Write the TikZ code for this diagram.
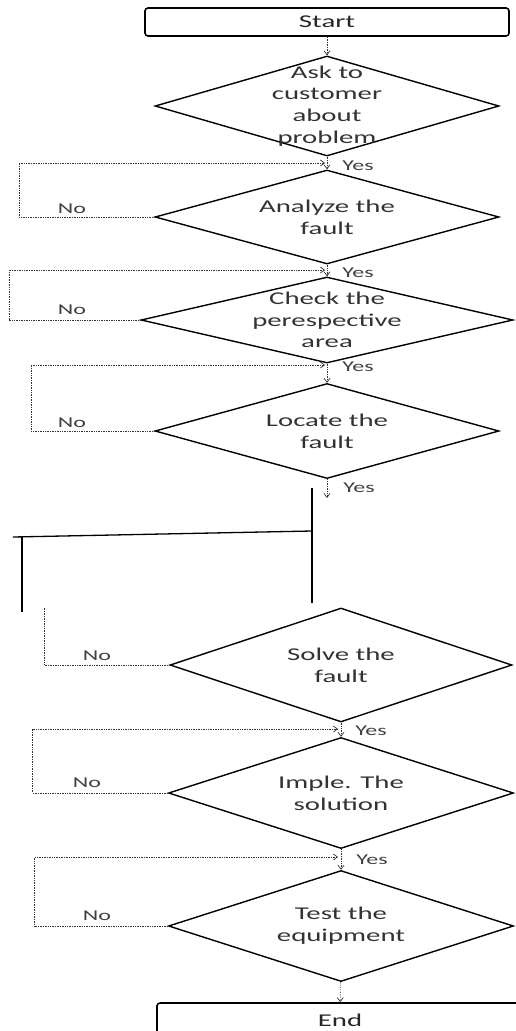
\documentclass[tikz,border=0pt]{standalone}
\usepackage{fontspec}
\setmainfont[FakeStretch=1.6]{Carlito}
\usepackage{tikz}
\usetikzlibrary{shapes.geometric,arrows.meta}

\begin{document}
\begin{tikzpicture}[x=1pt, y=-1pt,
  every node/.style={inner sep=0pt, text=black!85},
  term/.style={draw=black, line width=1.6pt, rounded corners=3pt, minimum height=28pt, font=\fontsize{18}{21}\selectfont},
  dec/.style={diamond, draw=black, line width=1.4pt, minimum width=344pt},
  dtext/.style={align=center, text=black!80, font=\fontsize{18}{21.7}\selectfont},
  lbl/.style={font=\fontsize{15}{18}\selectfont, text=black!75},
  flow/.style={densely dotted, line width=0.7pt, -{Straight Barb[length=4pt,width=6pt]}, black!80},
  bar/.style={line width=1.3pt}]
\useasboundingbox (0,0) rectangle (516,1031);
\clip (0,0) rectangle (516,1031);
% Terminals
\node[term, minimum width=364pt] (start) at (327,22) {Start};
\node[term, minimum width=366pt, minimum height=34pt] (end) at (340,1020) {End};
% Decisions
\node[dec, minimum height=100pt, label={[dtext]center:Ask to\\customer\\about\\problem}] (ask) at (327,106) {};
\node[dec, minimum height=94pt, label={[dtext]center:Analyze the\\fault}] (analyze) at (327,217) {};
\node[dec, minimum height=86pt, minimum width=372pt, label={[dtext]center:Check the\\perespective\\area}] (check) at (327,320) {};
\node[dec, minimum height=95pt, label={[dtext]center:Locate the\\fault}] (locate) at (327,431) {};
\node[dec, minimum height=114pt, minimum width=342pt, label={[dtext]center:Solve the\\fault}] (solve) at (341,665) {};
\node[dec, minimum height=111pt, minimum width=345pt, label={[dtext]center:Imple. The\\solution}] (imple) at (341,793) {};
\node[dec, minimum height=111pt, minimum width=345pt, label={[dtext]center:Test the\\equipment}] (test) at (341,926) {};
% Junctions
\coordinate (j1) at (325,163);
\coordinate (j2) at (325,270);
\coordinate (j3) at (325,365);
\coordinate (j4) at (327,498);
\coordinate (j6) at (338,729);
\coordinate (j7) at (338,857);
% Yes branches
\draw[flow] (start) -- (ask);
\draw[flow] (ask) -- (analyze);
\draw[flow] (analyze) -- (check);
\draw[flow] (check) -- (locate);
\draw[flow] (locate.south) -- (j4);
\draw[flow] (solve) -- (imple);
\draw[flow] (imple) -- (test);
\draw[flow] (test) -- (end);
% No branches
\draw[flow] (analyze.west) -- ++(-135,0) |- (j1);
\draw[flow] (check.west) -- ++(-131,0) |- (j2);
\draw[flow] (locate.west) -- ++(-123,0) |- (j3);
\draw[densely dotted, line width=0.7pt, black!80] (solve.west) -- ++(-125,0) -- ++(0,-57);
\draw[flow] (imple.west) -- ++(-135,0) |- (j6);
\draw[flow] (test.west) -- ++(-133,0) |- (j7);
% Labels
\node[lbl] (y1) at (358,166) {Yes};
\node[lbl] (y2) at (358,273) {Yes};
\node[lbl] (y3) at (358,367) {Yes};
\node[lbl] (y4) at (359,488) {Yes};
\node[lbl] (y6) at (371,731) {Yes};
\node[lbl] (y7) at (372,860) {Yes};
\node[lbl] (n2) at (72,209) {No};
\node[lbl] (n3) at (72,310) {No};
\node[lbl] (n4) at (72,423) {No};
\node[lbl] (n5) at (97,656) {No};
\node[lbl] (n6) at (87,783) {No};
\node[lbl] (n7) at (97,916) {No};
% Solid bracket
\draw[bar] (312,488) -- (312,603);
\draw[bar] (13,537) -- (312,531);
\draw[bar] (22,537) -- (22,612);
\end{tikzpicture}
\end{document}
